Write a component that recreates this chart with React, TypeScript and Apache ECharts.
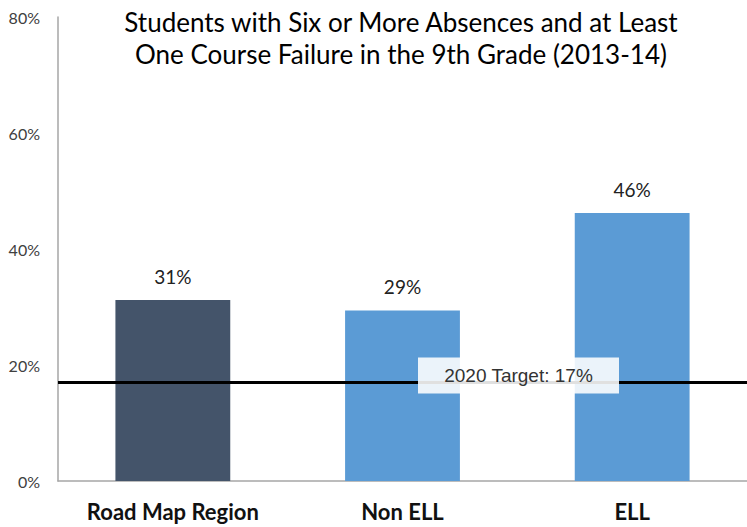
import React, { useEffect, useRef } from "react";
import * as echarts from "echarts";

const categories = ["Road Map Region", "Non ELL", "ELL"];
const values = [31.2, 29.4, 46.2];
const barColors = ["#44546A", "#5B9BD5", "#5B9BD5"];
const targetValue = 17;
const targetLabel = "2020 Target: 17%";
const titleLines = [
  "Students with Six or More Absences and at Least",
  "One Course Failure in the 9th Grade (2013-14)",
];

export default function App() {
  const ref = useRef<HTMLDivElement>(null);
  useEffect(() => {
    const chart = echarts.init(ref.current!, undefined, { renderer: "svg" });
    chart.setOption({
      animation: false,
      backgroundColor: "#fff",
      title: {
        text: titleLines.join("\n"),
        left: 396,
        textAlign: "center",
        top: 1,
        textStyle: {
          fontFamily: "Lato",
          fontWeight: "normal",
          fontSize: 26,
          lineHeight: 32,
          color: "#000",
        },
      },
      grid: { left: 58, right: -4, top: 17, bottom: 46, containLabel: false },
      xAxis: {
        type: "category",
        data: categories,
        axisLine: { show: true, lineStyle: { color: "#A6A6A6", width: 1.5 } },
        axisTick: { show: false },
        axisLabel: {
          margin: 19,
          fontFamily: "Lato",
          fontWeight: "bold",
          fontSize: 22,
          color: "#111",
        },
      },
      yAxis: {
        type: "value",
        min: 0,
        max: 80,
        interval: 20,
        axisLine: { show: true, lineStyle: { color: "#A6A6A6", width: 1.5 } },
        axisTick: { show: false },
        splitLine: { show: false },
        axisLabel: {
          formatter: "{value}%",
          margin: 18,
          fontFamily: "Lato",
          fontSize: 16,
          color: "#404040",
        },
      },
      series: [
        {
          type: "bar",
          data: values.map((v, i) => ({ value: v, itemStyle: { color: barColors[i] } })),
          barWidth: "50%",
          label: {
            show: true,
            position: "top",
            distance: 14,
            formatter: (p: any) => Math.round(p.value) + "%",
            fontFamily: "Lato",
            fontSize: 19,
            color: "#222",
          },
          markLine: {
            silent: true,
            symbol: "none",
            label: { show: false },
            lineStyle: { color: "#000", width: 3, type: "solid" },
            data: [{ yAxis: targetValue }],
            z: 5,
          },
          markPoint: {
            silent: true,
            symbol: "rect",
            symbolSize: [201, 36],
            symbolOffset: [116, -7],
            itemStyle: { color: "rgba(255,255,255,0.88)" },
            label: {
              show: true,
              formatter: targetLabel,
              fontFamily: "Liberation Sans",
              fontSize: 19,
              color: "#333",
            },
            data: [{ coord: [1, targetValue] }],
            z: 10,
          },
        },
      ],
    });
    return () => chart.dispose();
  }, []);
  return (
    <div
      ref={ref}
      style={{ position: "absolute", left: 0, top: 0, width: 747, height: 527 }}
    />
  );
}
